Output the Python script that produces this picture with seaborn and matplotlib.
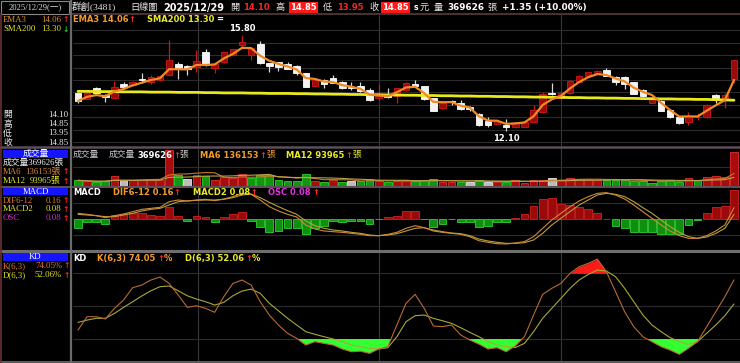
import numpy as np
import pandas as pd
import matplotlib
matplotlib.use("Agg")
import matplotlib.pyplot as plt
import seaborn as sns
from matplotlib.lines import Line2D
from matplotlib.patches import Rectangle

# ---------------- data ----------------
opens = [13.56, 13.35, 13.78, 13.51, 13.39, 13.91, 13.88, 14.10, 14.01, 14.07,
         14.27, 14.67, 14.62, 14.59, 15.13, 14.55, 14.75, 15.03, 15.41, 15.03,
         15.45, 14.72, 14.76, 14.67, 14.62, 14.33, 13.85, 14.08, 14.14, 14.01,
         13.82, 13.84, 13.69, 13.37, 13.55, 13.46, 13.69, 13.92, 13.84, 13.37,
         13.00, 13.28, 13.18, 13.05, 12.79, 12.51, 12.40, 12.35, 12.28, 12.28,
         12.48, 12.86, 13.58, 13.37, 13.56, 14.01, 14.23, 14.34, 14.46, 14.19,
         14.19, 14.00, 13.69, 13.20, 13.28, 12.94, 12.64, 12.48, 12.64, 12.65,
         13.49, 13.30, 14.10]
highs = [13.58, 13.62, 13.82, 13.53, 14.05, 14.01, 14.05, 14.36, 14.27, 14.25,
         15.61, 14.78, 14.64, 15.22, 15.25, 14.72, 15.15, 15.28, 15.80, 15.32,
         15.58, 14.74, 14.78, 14.78, 14.64, 14.35, 14.10, 14.10, 14.27, 14.05,
         14.01, 14.01, 13.76, 13.92, 13.76, 13.78, 14.00, 14.07, 13.86, 13.39,
         13.23, 13.31, 13.29, 13.07, 12.81, 12.67, 12.53, 12.57, 12.45, 12.50,
         13.12, 13.60, 13.97, 13.66, 14.06, 14.26, 14.39, 14.44, 14.55, 14.21,
         14.21, 14.01, 13.72, 13.44, 13.30, 12.96, 12.66, 12.86, 12.80, 13.16,
         13.54, 13.56, 14.85]
lows = [13.18, 13.33, 13.55, 13.22, 13.37, 13.80, 13.86, 13.95, 13.92, 14.03,
        14.23, 14.10, 14.27, 14.39, 14.63, 14.36, 14.72, 15.00, 15.29, 14.84,
        14.69, 14.39, 14.43, 14.48, 14.27, 13.80, 13.83, 13.78, 13.95, 13.74,
        13.69, 13.63, 13.28, 13.31, 13.40, 13.18, 13.67, 13.82, 13.31, 12.88,
        12.98, 13.11, 12.93, 12.89, 12.33, 12.28, 12.38, 12.10, 12.26, 12.26,
        12.46, 12.80, 13.50, 13.35, 13.54, 13.99, 14.21, 14.32, 14.21, 13.87,
        13.73, 13.52, 13.44, 13.18, 12.88, 12.62, 12.40, 12.35, 12.55, 12.63,
        13.21, 13.00, 13.95]
closes = [13.27, 13.59, 13.56, 13.41, 13.82, 13.82, 14.01, 14.07, 14.18, 14.21,
          14.84, 14.48, 14.48, 14.82, 14.65, 14.69, 15.13, 15.25, 15.54, 15.29,
          14.71, 14.62, 14.57, 14.50, 14.36, 13.82, 14.08, 13.92, 13.97, 13.76,
          13.76, 13.65, 13.30, 13.45, 13.42, 13.76, 13.97, 13.84, 13.33, 12.90,
          13.21, 13.23, 12.95, 12.95, 12.35, 12.35, 12.51, 12.27, 12.43, 12.48,
          12.92, 13.55, 13.55, 13.59, 14.04, 14.24, 14.37, 14.42, 14.23, 14.00,
          13.91, 13.54, 13.46, 13.38, 12.90, 12.64, 12.42, 12.69, 12.67, 13.12,
          13.31, 13.50, 14.85]
prev_close0 = 13.40
volume = [61600, 50700, 43500, 50700, 105000, 61600, 61600, 68800, 68800, 68800,
          387000, 123000, 72500, 116000, 105000, 61600, 97800, 87000, 126800, 90600,
          123000, 123000, 61600, 58000, 58000, 130000, 58000, 47000, 65000, 47000,
          54000, 54000, 72000, 58000, 47000, 58000, 58000, 54000, 65000, 72000,
          47000, 47000, 47000, 47000, 65000, 47000, 40000, 47000, 65000, 36000,
          65000, 65000, 83000, 65000, 83000, 76000, 72000, 65000, 65000, 65000,
          65000, 58000, 52000, 38000, 52000, 66000, 46000, 84000, 61000, 95000,
          105000, 102000, 369626]
sma200 = [13.64, 13.64, 13.63, 13.63, 13.63, 13.62, 13.62, 13.62, 13.61, 13.61,
          13.61, 13.60, 13.60, 13.60, 13.59, 13.59, 13.58, 13.58, 13.58, 13.57,
          13.57, 13.56, 13.56, 13.56, 13.55, 13.55, 13.54, 13.54, 13.53, 13.53,
          13.52, 13.52, 13.51, 13.51, 13.50, 13.50, 13.49, 13.49, 13.48, 13.48,
          13.47, 13.47, 13.46, 13.46, 13.45, 13.45, 13.44, 13.44, 13.43, 13.43,
          13.42, 13.42, 13.41, 13.41, 13.40, 13.40, 13.39, 13.39, 13.38, 13.38,
          13.37, 13.37, 13.36, 13.36, 13.35, 13.35, 13.34, 13.34, 13.33, 13.33,
          13.32, 13.31, 13.30]
dif = [0.092, 0.080, 0.064, 0.040, 0.064, 0.084, 0.112, 0.140, 0.152, 0.164,
       0.232, 0.252, 0.240, 0.252, 0.260, 0.244, 0.264, 0.292, 0.332, 0.320,
       0.252, 0.172, 0.120, 0.080, 0.048, -0.048, -0.096, -0.120, -0.128, -0.136,
       -0.148, -0.160, -0.176, -0.176, -0.160, -0.136, -0.088, -0.056, -0.080, -0.120,
       -0.136, -0.148, -0.160, -0.188, -0.236, -0.256, -0.272, -0.276, -0.264, -0.248,
       -0.188, -0.088, 0.012, 0.092, 0.172, 0.240, 0.292, 0.332, 0.340, 0.312,
       0.264, 0.192, 0.112, 0.032, -0.048, -0.120, -0.176, -0.208, -0.208, -0.176,
       -0.120, -0.048, 0.160]
macd_sig = [0.080, 0.072, 0.064, 0.052, 0.052, 0.072, 0.092, 0.120, 0.140, 0.152,
            0.192, 0.232, 0.240, 0.248, 0.252, 0.252, 0.260, 0.280, 0.312, 0.324,
            0.280, 0.224, 0.172, 0.124, 0.080, 0.000, -0.056, -0.088, -0.108, -0.120,
            -0.136, -0.148, -0.168, -0.176, -0.168, -0.152, -0.120, -0.088, -0.080, -0.108,
            -0.128, -0.144, -0.152, -0.176, -0.216, -0.240, -0.256, -0.268, -0.268, -0.260,
            -0.228, -0.148, -0.048, 0.032, 0.112, 0.192, 0.252, 0.312, 0.332, 0.320,
            0.292, 0.232, 0.160, 0.092, 0.012, -0.068, -0.136, -0.188, -0.208, -0.192,
            -0.148, -0.088, 0.080]
osc = [-0.026, -0.009, -0.009, -0.014, 0.011, 0.014, 0.016, 0.016, 0.011, 0.008,
       0.034, 0.008, -0.005, 0.009, 0.005, -0.009, 0.006, 0.013, 0.020, -0.005,
       -0.021, -0.037, -0.033, -0.024, -0.026, -0.040, -0.026, -0.018, -0.006, -0.007,
       -0.005, -0.005, -0.014, -0.001, 0.006, 0.009, 0.023, 0.023, -0.001, -0.023,
       -0.014, -0.001, -0.007, -0.007, -0.021, -0.018, -0.009, -0.009, 0.002, 0.013,
       0.037, 0.054, 0.057, 0.040, 0.039, 0.034, 0.027, 0.016, 0.001, -0.019,
       -0.026, -0.037, -0.037, -0.035, -0.040, -0.040, -0.040, -0.017, -0.003, 0.016,
       0.034, 0.037, 0.080]
k_vals = [28.2, 40.4, 40.4, 38.3, 48.0, 55.6, 66.9, 69.3, 73.9, 76.6,
          70.8, 60.2, 48.9, 50.4, 48.0, 44.4, 58.7, 70.8, 73.9, 69.3,
          54.1, 41.9, 32.8, 25.2, 20.6, 14.5, 17.6, 16.0, 14.5, 10.9,
          8.4, 8.9, 6.9, 10.9, 13.0, 32.8, 52.6, 60.8, 48.0, 31.9,
          31.3, 32.8, 23.7, 19.1, 15.4, 10.9, 12.1, 8.4, 13.7, 22.1,
          41.9, 60.8, 66.3, 70.8, 80.0, 86.0, 89.1, 93.0, 81.4, 63.2,
          44.9, 31.2, 22.1, 17.6, 13.0, 9.9, 6.0, 11.5, 17.6, 31.2,
          44.9, 58.7, 74.05]
d_vals = [35.2, 37.3, 38.9, 38.9, 43.4, 48.9, 54.1, 59.3, 64.1, 67.8,
          68.4, 64.1, 59.5, 56.5, 54.1, 51.0, 53.5, 59.5, 63.8, 65.6,
          61.7, 52.6, 45.8, 38.9, 32.8, 26.7, 24.3, 22.1, 20.0, 17.6,
          14.5, 13.0, 11.5, 10.9, 12.1, 22.1, 35.8, 41.3, 41.9, 38.9,
          36.7, 34.3, 30.3, 26.1, 22.1, 17.6, 14.5, 13.0, 12.2, 16.0,
          26.7, 38.9, 48.0, 57.1, 66.3, 73.9, 79.0, 83.0, 82.1, 76.9,
          66.3, 54.1, 41.9, 32.8, 26.7, 21.2, 17.6, 15.1, 17.6, 25.2,
          32.8, 41.3, 52.06]
month_lines = [13.17, 33.04, 53.0]

# ---------------- derived series ----------------
idx = np.arange(len(closes))
o = np.array(opens); h = np.array(highs); l = np.array(lows); c = np.array(closes)
ema3 = pd.Series(c).ewm(span=3, adjust=False).mean().values
vol = np.array(volume, dtype=float)
ma6 = pd.Series(vol).rolling(6, min_periods=1).mean().values
ma12 = pd.Series(vol).rolling(12, min_periods=1).mean().values
prevc = np.concatenate([[prev_close0], c[:-1]])
K = np.array(k_vals); D = np.array(d_vals)
osc_a = np.array(osc)

# ---------------- style ----------------
sns.set_theme(style="dark")
plt.rcParams['font.family'] = ['Noto Sans CJK TC', 'DejaVu Sans']
plt.rcParams['axes.unicode_minus'] = False
SANSB = ['DejaVu Sans', 'Noto Sans CJK TC']
SERIF = ['Liberation Serif', 'Noto Sans CJK TC']
CJK = ['Noto Sans CJK TC', 'DejaVu Sans']

W, H = 740, 363
fig = plt.figure(figsize=(7.4, 3.63), dpi=100, facecolor='black')
XL = (-0.55, 72.66)
GRID = '#2c2c2c'


def ax_at(x0, y0, x1, y1, face='black'):
    ax = fig.add_axes([x0 / W, 1 - y1 / H, (x1 - x0) / W, (y1 - y0) / H])
    ax.set_facecolor(face)
    for s in ax.spines.values():
        s.set_visible(False)
    ax.tick_params(length=0, labelleft=False, labelbottom=False,
                   labelright=False, labeltop=False)
    ax.set_xlim(*XL)
    return ax


def grids(ax, ys):
    ax.set_yticks(ys)
    ax.set_xticks(month_lines)
    ax.grid(True, axis='y', color=GRID, lw=0.8)
    ax.grid(True, axis='x', color='#383838', lw=0.8)


# ---- main price panel ----
axp = ax_at(73, 15, 740, 146)
axp.set_ylim(11.544, 16.567)
grids(axp, [15.99, 15.51, 15.03, 14.55, 14.07, 13.60, 13.12, 12.64, 12.16, 11.68])
up = c >= o
wick_col = np.where(up, '#c41a1a', '#d8d8d8')
axp.vlines(idx, l, h, colors=wick_col, lw=0.9, zorder=2)
body_b = np.minimum(o, c)
body_h = np.maximum(np.abs(c - o), 0.015)
axp.bar(idx[up], body_h[up], bottom=body_b[up], width=0.72,
        color='#9a0a0a', edgecolor='#d01818', lw=0.6, zorder=3)
axp.bar(idx[~up], body_h[~up], bottom=body_b[~up], width=0.72,
        color='#f2f2f2', edgecolor='#ffffff', lw=0.6, zorder=3)
sns.lineplot(x=idx, y=sma200, ax=axp, color='#e8e81a', lw=2.0, zorder=4)
sns.lineplot(x=idx, y=ema3, ax=axp, color='#f08a24', lw=1.6, zorder=5)
ih = int(np.argmax(h)); il = int(np.argmin(l))
axp.annotate(f'{h[ih]:.2f}', (ih, h[ih]), xytext=(0, 1.5), textcoords='offset points',
             ha='center', va='bottom', color='white', fontsize=6.0,
             fontweight='bold', family=SANSB)
axp.annotate(f'{l[il]:.2f}', (il, l[il]), xytext=(0, -1.5), textcoords='offset points',
             ha='center', va='top', color='white', fontsize=6.0,
             fontweight='bold', family=SANSB)
axp.set_xlim(*XL)

# ---- volume panel ----
axv = ax_at(73, 148, 740, 186)
axv.set_ylim(0, 413000)
grids(axv, [206000])
vcol = np.where(c > prevc, '#a80c0c', np.where(c < prevc, '#129612', '#bdbdbd'))
vedge = np.where(c > prevc, '#e03030', np.where(c < prevc, '#2ad42a', '#e8e8e8'))
axv.bar(idx, vol, width=0.86, color=vcol, edgecolor=vedge, lw=0.6, zorder=2)
sns.lineplot(x=idx, y=ma6, ax=axv, color='#c97a2a', lw=0.8, zorder=3)
sns.lineplot(x=idx, y=ma12, ax=axv, color='#b8a24a', lw=0.8, zorder=3)
axv.set_xlim(*XL)

# ---- MACD panel ----
axm = ax_at(73, 187, 740, 251)
axm.set_ylim(-0.088, 0.088)
grids(axm, [-0.044, 0.044])
pos = osc_a >= 0
axm.bar(idx[pos], osc_a[pos], width=0.86, color='#9a0a0a', edgecolor='#d02020', lw=0.6, zorder=2)
axm.bar(idx[~pos], osc_a[~pos], width=0.86, color='#0f8f0f', edgecolor='#35d035', lw=0.6, zorder=2)
axm.set_xlim(*XL)
axm2 = ax_at(73, 187, 740, 251, face='none')
axm2.set_ylim(-0.36, 0.408)
axm2.set_xticks([]); axm2.set_yticks([])
sns.lineplot(x=idx, y=macd_sig, ax=axm2, color='#b8a040', lw=0.8)
sns.lineplot(x=idx, y=dif, ax=axm2, color='#d0883a', lw=0.8)
axm2.set_xlim(*XL)

# ---- KD panel ----
axk = ax_at(73, 252, 740, 362)
axk.set_ylim(-1, 99.5)
grids(axk, [20, 50, 80])
axk.fill_between(idx, K, 20, where=K < 20, interpolate=True, color='#33ff33', lw=0, zorder=2)
axk.fill_between(idx, K, 80, where=K > 80, interpolate=True, color='#ff1a1a', lw=0, zorder=2)
sns.lineplot(x=idx, y=D, ax=axk, color='#a8a838', lw=0.8, zorder=3)
sns.lineplot(x=idx, y=K, ax=axk, color='#b86a30', lw=0.8, zorder=3)
axk.set_xlim(*XL)

for a in (axp, axv, axm, axm2, axk):
    a.set_xlabel(''); a.set_ylabel('')
    if a.get_legend():
        a.get_legend().remove()


# ---------------- frame lines ----------------
def hline(y, x0, x1, color, lw):
    fig.add_artist(Line2D([x0 / W, x1 / W], [1 - y / H, 1 - y / H], color=color, lw=lw,
                          transform=fig.transFigure))


def vline(x, y0, y1, color, lw):
    fig.add_artist(Line2D([x / W, x / W], [1 - y0 / H, 1 - y1 / H], color=color, lw=lw,
                          transform=fig.transFigure))


def rect(x0, y0, x1, y1, face, edge='none', lw=0.8):
    fig.add_artist(Rectangle((x0 / W, 1 - y1 / H), (x1 - x0) / W, (y1 - y0) / H,
                             facecolor=face, edgecolor=edge, lw=lw, transform=fig.transFigure))


hline(14.3, 70, 740, '#5a3c3c', 1.2)
hline(147.5, 0, 740, '#5e4e58', 1.8)
hline(186.6, 0, 740, '#5e4e58', 1.5)
hline(251.2, 0, 740, '#6e6e6e', 2.2)
hline(362.0, 0, 740, '#5a5a5a', 1.5)
vline(71, 0, 363, '#6a6a6a', 1.6)
vline(0.6, 14, 363, '#6b3030', 1.2)
rect(1, 1, 69, 14, 'none', '#8a8a8a', 0.8)


# ---------------- texts ----------------
def T(x, y, s, color, size=6.05, weight='bold', fam=SANSB, ha='left', bbox=None):
    fig.text(x / W, 1 - y / H, s, color=color, fontsize=size, fontweight=weight,
             family=fam, ha=ha, va='center', bbox=bbox)


RED = '#ff2424'; ORG = '#f39a2c'; YEL = '#eaea2a'; MAG = '#e030e0'; GRY = '#d8d8d8'
TY = 7.5
T(35, TY, '2025/12/29(一)', GRY, 6.2, 'normal', SERIF, ha='center')
T(72, TY, '群創(3481)', '#e6e6e6', 6.8, 'normal', SERIF)
T(130, TY, '日線圖', '#e6e6e6', 6.6, 'normal', CJK)
T(163, TY, '2025/12/29', 'white', 7.0)
T(230, TY, '開', '#e6e6e6', 6.6, 'normal', CJK)
T(243, TY, '14.10', RED, 6.0)
T(276, TY, '高', '#e6e6e6', 6.6, 'normal', CJK)
T(290, TY, '14.85', 'white', 6.0, bbox=dict(facecolor='#ff1a1a', edgecolor='none', pad=0.9))
T(323, TY, '低', '#e6e6e6', 6.6, 'normal', CJK)
T(337, TY, '13.95', RED, 6.0)
T(369, TY, '收', '#e6e6e6', 6.6, 'normal', CJK)
T(382, TY, '14.85', 'white', 6.0, bbox=dict(facecolor='#ff1a1a', edgecolor='none', pad=0.9))
T(413.5, TY, 's', 'white', 5.6)
T(420, TY, '元', '#e6e6e6', 6.6, 'normal', CJK)
T(434, TY, '量', '#e6e6e6', 6.6, 'normal', CJK)
T(447, TY, '369626', 'white', 6.4)
T(487, TY, '張', '#e6e6e6', 6.6, 'normal', CJK)
T(502, TY, '+1.35 (+10.00%)', 'white', 6.4)

# main panel header
T(73, 19.5, 'EMA3 14.06', ORG)
T(128, 19.5, '↑', RED)
T(147, 19.5, 'SMA200 13.30', YEL)
T(216, 19.5, '=', 'white')

# left info panel
LS = 6.3
T(3, 19.5, 'EMA3', '#e09030', LS, 'normal', SERIF)
T(61, 19.5, '14.06', '#e09030', LS, 'normal', SERIF, ha='right')
T(63, 19.5, '↑', RED, 5.5, 'bold', SANSB)
T(3, 29, 'SMA200', '#e6e62a', LS, 'normal', SERIF)
T(61, 29, '13.30', '#e6e62a', LS, 'normal', SERIF, ha='right')
T(63, 29, '↓', '#20d020', 5.5, 'bold', SANSB)
for yy, lab, val in [(115, '開', '14.10'), (124.3, '高', '14.85'),
                     (133.3, '低', '13.95'), (142.7, '收', '14.85')]:
    T(3, yy, lab, '#ececec', LS, 'normal', SERIF)
    T(68, yy, val, '#ececec', LS, 'normal', SERIF, ha='right')
rect(3, 149.5, 68, 157.5, '#1414ff')
T(35.5, 153.5, '成交量', 'white', LS, 'normal', SERIF, ha='center')
T(3, 162.3, '成交量369626張', '#f0f0f0', LS, 'normal', SERIF)
T(3, 171.7, 'MA6', '#e08a30', LS, 'normal', SERIF)
T(61, 171.7, '136153張', '#e08a30', LS, 'normal', SERIF, ha='right')
T(63, 171.7, '↑', RED, 5.5, 'bold', SANSB)
T(3, 181, 'MA12', '#e6e62a', LS, 'normal', SERIF)
T(61, 181, '93965張', '#e6e62a', LS, 'normal', SERIF, ha='right')
T(63, 181, '↑', RED, 5.5, 'bold', SANSB)
rect(3, 187.8, 68, 195.5, '#1414ff')
T(35.5, 191.7, 'MACD', 'white', LS, 'normal', SERIF, ha='center')
T(3, 200.7, 'DIF6-12', '#e07a30', LS, 'normal', SERIF)
T(61, 200.7, '0.16', '#e07a30', LS, 'normal', SERIF, ha='right')
T(63, 200.7, '↑', RED, 5.5, 'bold', SANSB)
T(3, 209.3, 'MACD2', '#e6e62a', LS, 'normal', SERIF)
T(61, 209.3, '0.08', '#e6e62a', LS, 'normal', SERIF, ha='right')
T(63, 209.3, '↑', RED, 5.5, 'bold', SANSB)
T(3, 218.3, 'OSC', '#c830c8', LS, 'normal', SERIF)
T(61, 218.3, '0.08', '#c830c8', LS, 'normal', SERIF, ha='right')
T(63, 218.3, '↑', RED, 5.5, 'bold', SANSB)
rect(3, 252.8, 68, 261, '#1414ff')
T(35.5, 257, 'KD', 'white', LS, 'normal', SERIF, ha='center')
T(3, 265.7, 'K(6,3)', '#e07a30', LS, 'normal', SERIF)
T(62, 265.7, '74.05%', '#e07a30', LS, 'normal', SERIF, ha='right')
T(64, 265.7, '↑', RED, 5.5, 'bold', SANSB)
T(3, 275, 'D(6,3)', '#e6e62a', LS, 'normal', SERIF)
T(62, 275, '52.06%', '#e6e62a', LS, 'normal', SERIF, ha='right')
T(64, 275, '↑', RED, 5.5, 'bold', SANSB)

# volume header
VY = 155
T(73, VY, '成交量', '#c8c8c8', LS, 'normal', SERIF)
T(109, VY, '成交量', '#c8c8c8', LS, 'normal', SERIF)
T(137, VY, '369626', 'white')
T(173, VY, '↑', RED)
T(179, VY, '張', '#c8c8c8', LS, 'normal', SERIF)
T(200, VY, 'MA6 136153', ORG)
T(259, VY, '↑', RED)
T(266, VY, '張', ORG, LS, 'normal', SERIF)
T(286, VY, 'MA12 93965', YEL)
T(345, VY, '↑', RED)
T(352, VY, '張', YEL, LS, 'normal', SERIF)

# MACD header
MY = 192.7
T(73, MY, 'MACD', 'white')
T(113, MY, 'DIF6-12 0.16', ORG)
T(173, MY, '↑', RED)
T(193, MY, 'MACD2 0.08', YEL)
T(250, MY, '↑', RED)
T(268, MY, 'OSC 0.08', MAG)
T(312, MY, '↑', RED)

# KD header
KY = 258.3
T(73, KY, 'KD', 'white')
T(97, KY, 'K(6,3) 74.05', ORG)
T(157, KY, '↑', RED)
T(164, KY, '%', ORG)
T(185, KY, 'D(6,3) 52.06', YEL)
T(245, KY, '↑', RED)
T(252, KY, '%', YEL)

fig.savefig('out.png', dpi=100, facecolor='black')
